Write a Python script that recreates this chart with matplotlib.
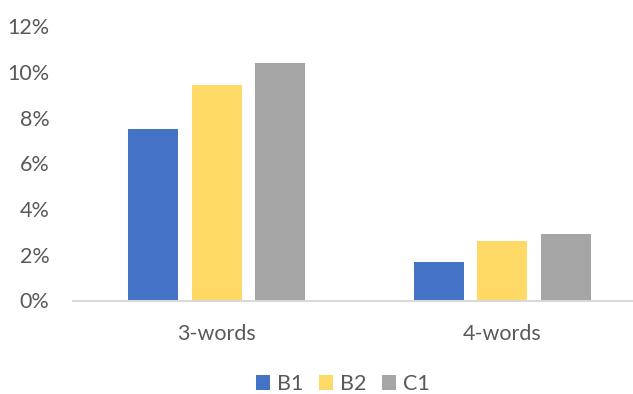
import matplotlib
matplotlib.use("Agg")
import matplotlib.pyplot as plt
from matplotlib.patches import Patch
from matplotlib.ticker import FuncFormatter
import numpy as np

categories = ["3-words", "4-words"]
series_names = ["B1", "B2", "C1"]
b1 = [0.075, 0.017]
b2 = [0.094, 0.026]
c1 = [0.104, 0.029]
colors = ["#4472C4", "#FFD966", "#A5A5A5"]

plt.rcParams['font.family'] = ['Lato', 'DejaVu Sans']
text_color = "#595959"

fig = plt.figure(figsize=(6.33, 3.94), dpi=100)
ax = fig.add_axes([73/633, 93.5/394, (632-73)/633, (300.5-26)/394])

x = np.arange(len(categories))
width = 0.175
offset = 0.222
for i, (vals, col) in enumerate(zip([b1, b2, c1], colors)):
    ax.bar(x + (i - 1) * offset, vals, width, color=col, zorder=2)

ax.set_xlim(-0.502, 1.453)
ax.set_ylim(0, 0.12)
ax.set_yticks(np.arange(0, 0.121, 0.02))
ax.yaxis.set_major_formatter(FuncFormatter(lambda v, p: f"{round(v*100)}%"))
ax.set_xticks(x)
ax.set_xticklabels(categories)
ax.tick_params(axis='both', length=0, labelsize=15.5, colors=text_color)
ax.tick_params(axis='x', pad=17)
ax.tick_params(axis='y', pad=17)
for s in ["top", "right", "left"]:
    ax.spines[s].set_visible(False)
ax.spines["bottom"].set_color("#D9D9D9")
ax.spines["bottom"].set_linewidth(1.5)

handles = [Patch(facecolor=c, edgecolor='none') for c in colors]
leg = fig.legend(handles, series_names, loc='center', ncol=3,
                 bbox_to_anchor=(343/633, 1 - 384/394), frameon=False,
                 fontsize=15.5, handlelength=0.65, handleheight=0.65,
                 handletextpad=0.3, columnspacing=0.75)
for t in leg.get_texts():
    t.set_color(text_color)

fig.savefig("out.png", dpi=100)
